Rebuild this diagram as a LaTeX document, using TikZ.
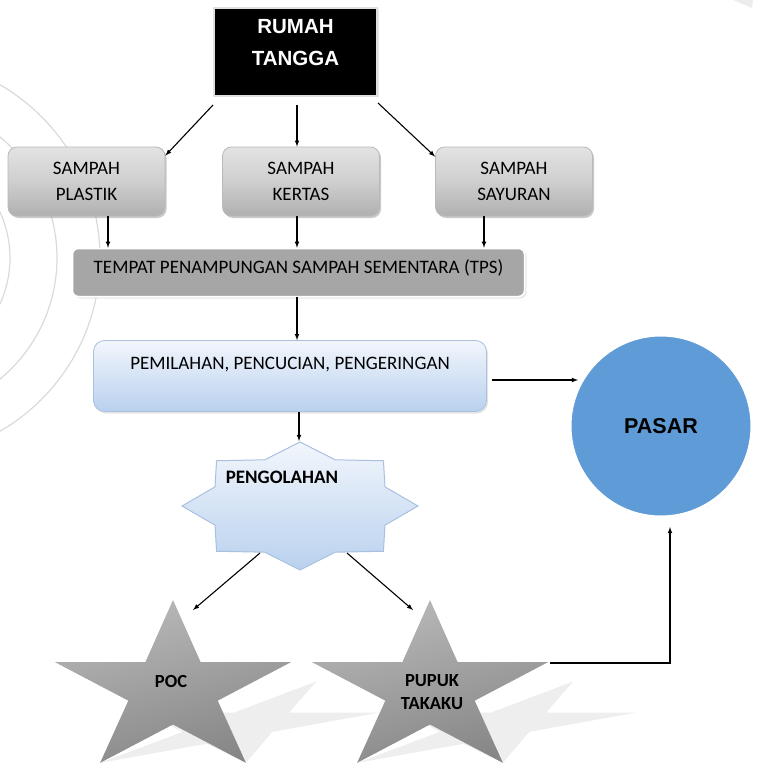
\documentclass[tikz,border=0pt]{standalone}
\usepackage{fontspec}
\setmainfont{Carlito}
\newfontfamily\arialf{Liberation Sans}
\usetikzlibrary{positioning,shadows,calc}
\definecolor{abutps}{HTML}{A6A6A6}
\definecolor{biruatas}{HTML}{F2F6FC}
\definecolor{birubawah}{HTML}{B9D1EE}
\definecolor{birugaris}{HTML}{A9C1DF}
\definecolor{birupasar}{HTML}{5F9BD6}
\definecolor{lingkarlatar}{HTML}{DADADA}
\tikzset{every picture/.style={>=latex,thick}}
\tikzset{panah/.style={->,line width=1.1pt}}
\tikzset{lingkar/.style={lingkarlatar,line width=1.2pt}}
\tikzset{teks/.style={font=\fontsize{19}{26}\selectfont,align=center}}
\tikzset{teks tebal/.style={font=\fontsize{18.5}{23}\selectfont\bfseries,align=center}}
\tikzset{kepala/.style={rectangle,fill=black,draw=gray!25,line width=2pt,
    minimum width=163pt,minimum height=88pt,
    drop shadow={shadow xshift=1.5pt,shadow yshift=-1.5pt,fill=gray!40}}}
\tikzset{teks kepala/.style={font=\arialf\fontsize{20.5}{32}\selectfont\bfseries,
    text=white,align=center}}
\tikzset{kotak sampah/.style={rectangle,rounded corners=9pt,teks,
    minimum width=157pt,minimum height=69pt,
    top color=gray!22,bottom color=gray!62,middle color=gray!38,draw=gray!55,
    drop shadow={shadow xshift=1.5pt,shadow yshift=-2pt,fill=gray!85}}}
\tikzset{kotak tps/.style={rectangle,rounded corners=6pt,fill=abutps,
    draw=white,line width=1.5pt,minimum width=452pt,minimum height=48pt,
    drop shadow={shadow xshift=2pt,shadow yshift=-2pt,fill=gray!35}}}
\tikzset{kotak biru/.style={rectangle,rounded corners=11pt,
    top color=biruatas,bottom color=birubawah,draw=birugaris,
    minimum width=393pt,minimum height=71pt,
    drop shadow={shadow xshift=1.5pt,shadow yshift=-2pt,fill=gray!40}}}
\tikzset{bulat/.style={circle,fill=birupasar,draw=white,line width=4pt,
    minimum size=183pt,font=\arialf\fontsize{21.5}{25}\selectfont\bfseries,
    drop shadow={shadow xshift=1.5pt,shadow yshift=-1.5pt,fill=gray!35}}}
\tikzset{bintang biru/.style={top color=biruatas,bottom color=birubawah,
    draw=birugaris,line width=1pt}}
\tikzset{bintang abu/.style={top color=gray!55,bottom color=gray!95,
    shading angle=15}}
\tikzset{bayangan/.style={fill=gray!13}}

\begin{document}
\begin{tikzpicture}[x=1pt,y=-1pt]
  \useasboundingbox (0,0) rectangle (759,765);
  % lingkaran latar
  \foreach \r in {110,157,200}
    \draw[lingkar] (-100,258) circle[radius=\r];
  \fill[gray!15] (733,0) -- (753,0) -- (752,8) -- cycle;

  % kotak-kotak
  \node[kepala,label={[teks kepala,yshift=9pt]center:RUMAH\\TANGGA}] (rumah) at (295.5,52) {};
  \node[kotak sampah] (plastik) at (86.5,181.5) {SAMPAH\\PLASTIK};
  \node[kotak sampah] (kertas) at (301,181.5) {SAMPAH\\KERTAS};
  \node[kotak sampah] (sayuran) at (514,181.5) {SAMPAH\\SAYURAN};
  \node[kotak tps,label={[teks,yshift=5pt]center:TEMPAT PENAMPUNGAN SAMPAH SEMENTARA (TPS)}] (tps) at (298.5,272.5) {};
  \node[kotak biru,label={[teks,yshift=11pt]center:{PEMILAHAN, PENCUCIAN, PENGERINGAN}}] (pilah) at (290,376) {};
  \node[bulat] (pasar) at (661,426) {PASAR};

  % bintang pengolahan
  \coordinate (olah-pusat) at (300,506);
  \path[bintang biru] (olah-pusat) +(270:118 and 64)
    \foreach \a in {270,315,...,585} { -- +(\a+22.5:92 and 50) -- +(\a+45:118 and 64) } -- cycle;
  \node[teks tebal,font=\fontsize{19}{23}\selectfont\bfseries] (olah) at (282,477) {PENGOLAHAN};

  % bintang hasil dan bayangannya
  \coordinate (poc-pusat) at (173,690);
  \coordinate (pupuk-pusat) at (430,690);
  \foreach \c in {poc-pusat,pupuk-pusat}
    \path[bayangan] ([xshift=64pt,yshift=-36.5pt]\c) +({-0.88*90*sin(270)},{0.5*90*sin(270)})
      \foreach \a in {270,342,...,558} {
        -- +({47*cos(\a+36)-0.88*34.5*sin(\a+36)},{0.5*34.5*sin(\a+36)})
        -- +({124*cos(\a+72)-0.88*90*sin(\a+72)},{0.5*90*sin(\a+72)}) } -- cycle;
  \foreach \c in {poc-pusat,pupuk-pusat}
    \path[bintang abu] (\c) +(270:124 and 90)
      \foreach \a in {270,342,...,558} { -- +(\a+36:47 and 34.5) -- +(\a+72:124 and 90) } -- cycle;
  \node[teks tebal] (poc) at (171,681) {POC};
  \node[teks tebal] (pupuk) at (432,692) {PUPUK\\TAKAKU};

  \coordinate (olah-atas) at (299,441);
  \coordinate (olah-kiri) at (260,553);
  \coordinate (olah-kanan) at (347,553);
  \coordinate (poc-atas) at (193,610);
  \coordinate (pupuk-atas) at (413,610);
  \coordinate (pupuk-kanan) at (550,663);
  \coordinate (pasar-kiri) at (578,380);
  \coordinate (pasar-bawah) at (670,527);

  % panah
  \draw[panah] ([yshift=-8pt]rumah.south west) -- ([yshift=-9pt]plastik.north east);
  \draw[panah] ([xshift=1.5pt,yshift=-8pt]rumah.south) -- ([xshift=1.5pt]rumah.south |- kertas.north);
  \draw[panah] ([yshift=-6pt]rumah.south east) -- ([yshift=-10pt]sayuran.north west);
  \draw[panah] ([xshift=21.5pt]plastik.south) -- ([xshift=21.5pt]plastik.south |- tps.north);
  \draw[panah] ([xshift=-4pt]kertas.south) -- ([xshift=-4pt]kertas.south |- tps.north);
  \draw[panah] ([xshift=-30pt]sayuran.south) -- ([xshift=-30pt]sayuran.south |- tps.north);
  \draw[panah] ([xshift=-1.5pt]tps.south) -- ([xshift=-1.5pt]tps.south |- pilah.north);
  \draw[panah] ([xshift=5pt,yshift=-4pt]pilah.east) -- (pasar-kiri);
  \draw[panah] ([xshift=9pt]pilah.south) -- (olah-atas);
  \draw[panah] (olah-kiri) -- (poc-atas);
  \draw[panah] (olah-kanan) -- (pupuk-atas);
  \draw[panah] (pupuk-kanan) -| (pasar-bawah);
\end{tikzpicture}
\end{document}
